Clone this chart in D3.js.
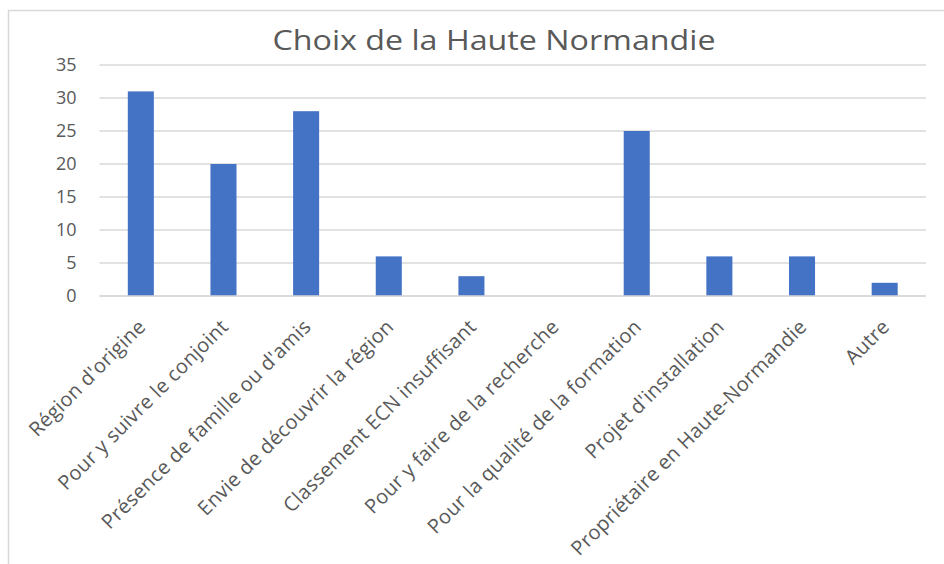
<!DOCTYPE html>
<html lang="fr">
<head>
  <meta charset="UTF-8">
  <title>Choix de la Haute Normandie</title>
  <script src="https://d3js.org/d3.v7.min.js"></script>
  <style>
    body { margin: 0; background: #fff; }
    svg text { font-family: "Open Sans", "Noto Sans", sans-serif; fill: #595959; }
  </style>
</head>
<body>
  <div id="chart"></div>
  <script>
    // Chart data
    const categories = [
      "Région d'origine",
      "Pour y suivre le conjoint",
      "Présence de famille ou d'amis",
      "Envie de découvrir la région",
      "Classement ECN insuffisant",
      "Pour y faire de la recherche",
      "Pour la qualité de la formation",
      "Projet d'installation",
      "Propriétaire en Haute-Normandie",
      "Autre"
    ];
    const values = [31, 20, 28, 6, 3, 0, 25, 6, 6, 2];
    const yTicks = [0, 5, 10, 15, 20, 25, 30, 35];
    const title = "Choix de la Haute Normandie";

    const W = 944, H = 564;
    const plot = { left: 99.5, right: 926, top: 65, bottom: 296 };

    const svg = d3.select("#chart").append("svg")
      .attr("width", W)
      .attr("height", H);

    // chart frame (only top and left edges visible)
    svg.append("rect")
      .attr("x", 8.5).attr("y", 10.5)
      .attr("width", 1000).attr("height", 1000)
      .attr("fill", "none")
      .attr("stroke", "#d9d9d9")
      .attr("stroke-width", 1.5);

    const x = d3.scaleBand()
      .domain(categories)
      .range([plot.left, plot.right])
      .paddingInner(0.685)
      .paddingOuter(0.3425);

    const y = d3.scaleLinear()
      .domain([0, 35])
      .range([plot.bottom, plot.top]);

    // gridlines
    svg.append("g")
      .selectAll("line")
      .data(yTicks)
      .join("line")
      .attr("x1", plot.left)
      .attr("x2", plot.right)
      .attr("y1", d => y(d))
      .attr("y2", d => y(d))
      .attr("stroke", "#d9d9d9")
      .attr("stroke-width", 1.5);

    // y axis labels
    const yAxis = svg.append("g")
      .attr("transform", `translate(${plot.left},0)`)
      .call(d3.axisLeft(y).tickValues(yTicks).tickSize(0).tickPadding(23));
    yAxis.select(".domain").remove();
    yAxis.selectAll("text")
      .style("font-size", "18px")
      .attr("fill", "#595959");

    // bars
    svg.append("g")
      .selectAll("rect")
      .data(values)
      .join("rect")
      .attr("x", (d, i) => x(categories[i]))
      .attr("y", d => y(d))
      .attr("width", x.bandwidth())
      .attr("height", d => y(0) - y(d))
      .attr("fill", "#4472C4");

    // category axis line
    svg.append("line")
      .attr("x1", plot.left).attr("x2", plot.right)
      .attr("y1", y(0)).attr("y2", y(0))
      .attr("stroke", "#d9d9d9")
      .attr("stroke-width", 1.5);

    // rotated category labels
    svg.append("g")
      .selectAll("text")
      .data(categories)
      .join("text")
      .attr("transform", d => `translate(${x(d) + x.bandwidth() / 2 + 6},${plot.bottom + 32}) rotate(-45)`)
      .attr("text-anchor", "end")
      .style("font-size", "20px")
      .style("letter-spacing", "0.3px")
      .text(d => d);

    // title
    svg.append("text")
      .attr("x", 494)
      .attr("y", 50)
      .attr("text-anchor", "middle")
      .attr("textLength", 443)
      .attr("lengthAdjust", "spacingAndGlyphs")
      .style("font-size", "28px")
      .text(title);
  </script>
</body>
</html>
